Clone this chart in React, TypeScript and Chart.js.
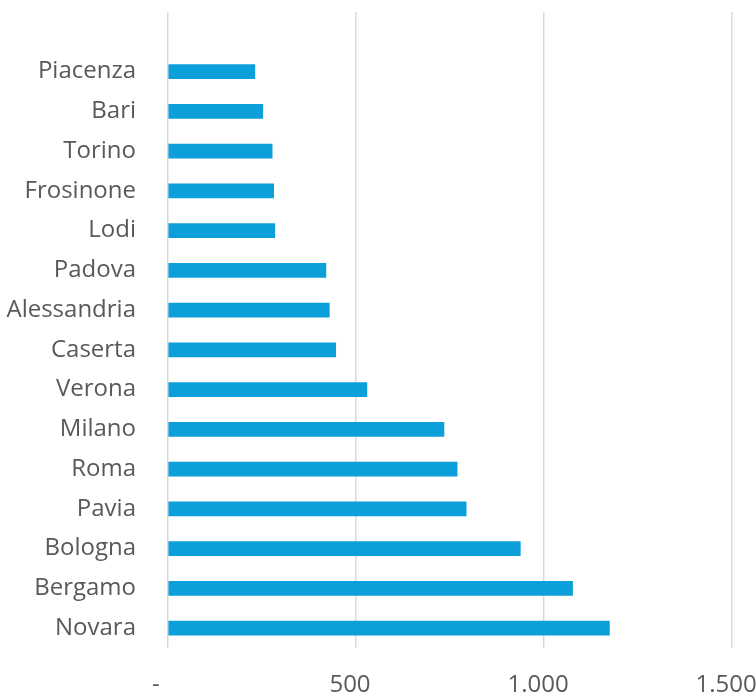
import React, { useEffect, useRef } from "react";
import { Chart, registerables } from "chart.js";

Chart.register(...registerables);

// Cities, top to bottom; the first row is left blank as a spacer.
const cities: string[] = [
  "",
  "Piacenza",
  "Bari",
  "Torino",
  "Frosinone",
  "Lodi",
  "Padova",
  "Alessandria",
  "Caserta",
  "Verona",
  "Milano",
  "Roma",
  "Pavia",
  "Bologna",
  "Bergamo",
  "Novara",
];

const values: (number | null)[] = [
  null, 231, 252, 277, 281, 284, 420, 429, 446, 529, 734, 769, 793, 937, 1076, 1174,
];

const xTicks: number[] = [0, 500, 1000, 1500];

const BAR_COLOR = "#0D9FD9";
const GRID_COLOR = "#D9D9D9";
const TEXT_COLOR = "#595959";
const FONT = "'Open Sans', sans-serif";

function formatTick(v: number): string {
  if (v === 0) return "-  ";
  return String(v).replace(/\B(?=(\d{3})+(?!\d))/g, ".");
}

function noPadding(axis: any) {
  axis.paddingTop = 0;
  axis.paddingBottom = 0;
  axis.paddingLeft = 0;
  axis.paddingRight = 0;
}

export default function App() {
  const canvasRef = useRef<HTMLCanvasElement | null>(null);

  useEffect(() => {
    document.body.style.margin = "0";
    const canvas = canvasRef.current;
    if (!canvas) return;
    const chart = new Chart(canvas, {
      type: "bar",
      data: {
        labels: cities,
        datasets: [
          {
            data: values,
            backgroundColor: BAR_COLOR,
            borderWidth: 0,
            barThickness: 14,
          },
        ],
      },
      options: {
        indexAxis: "y",
        responsive: false,
        animation: false,
        layout: { padding: { top: 12, right: 24, left: 0, bottom: 0 } },
        plugins: {
          legend: { display: false },
          tooltip: { enabled: false },
        },
        scales: {
          x: {
            min: 0,
            max: 1500,
            afterBuildTicks: (axis: any) => {
              axis.ticks = xTicks.map((v) => ({ value: v }));
            },
            afterFit: (axis: any) => {
              axis.height = 46;
              noPadding(axis);
            },
            grid: {
              color: GRID_COLOR,
              lineWidth: 1.5,
              drawTicks: false,
            },
            border: { display: false },
            ticks: {
              color: TEXT_COLOR,
              font: { family: FONT, size: 24 },
              padding: 23,
              labelOffset: -6,
              maxRotation: 0,
              autoSkip: false,
              callback: (v: any) => formatTick(Number(v)),
            },
          },
          y: {
            afterFit: (axis: any) => {
              axis.width = 168;
              noPadding(axis);
            },
            grid: { display: false, drawTicks: false },
            border: { display: false },
            ticks: {
              color: TEXT_COLOR,
              font: { family: FONT, size: 24 },
              padding: 32,
              autoSkip: false,
            },
          },
        },
      },
    });
    return () => chart.destroy();
  }, []);

  return (
    <div style={{ position: "relative", width: 756, height: 694, background: "#fff" }}>
      <canvas ref={canvasRef} width={756} height={694} />
    </div>
  );
}
